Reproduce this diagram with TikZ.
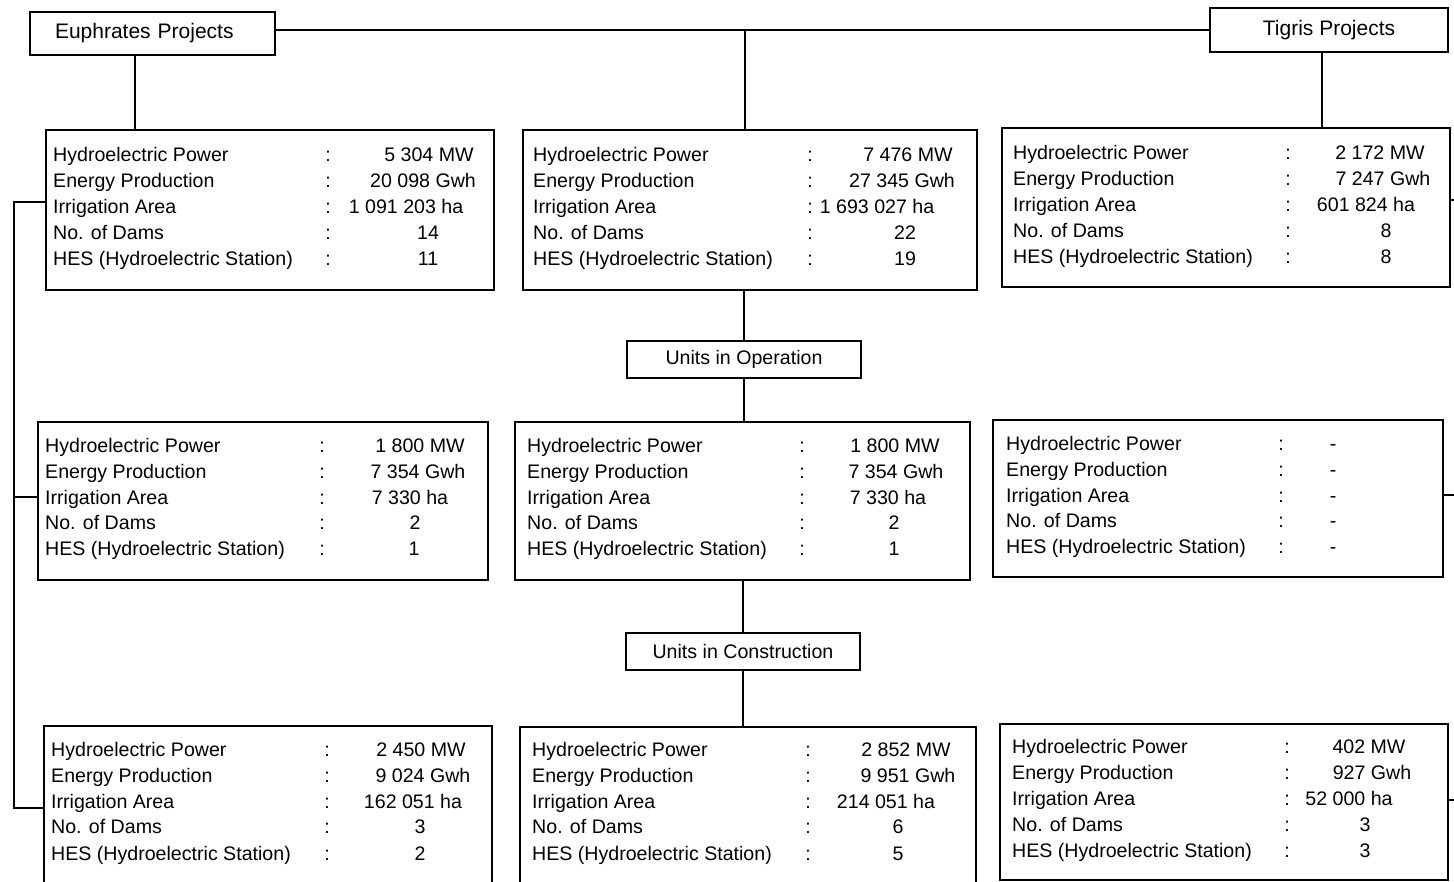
\documentclass[tikz,border=0pt]{standalone}
\usepackage{fontspec}
\setmainfont{Liberation Sans}
\begin{document}
\begin{tikzpicture}[x=1pt,y=-1pt,
  box/.style={draw,line width=2.2pt,rectangle,inner sep=0pt},
  title/.style={box,font=\fontsize{21}{24}\selectfont},
  mid/.style={box,font=\fontsize{19.6}{23}\selectfont},
  lbl/.style={anchor=base west,inner sep=0pt,font=\fontsize{19.6}{23}\selectfont},
  col/.style={anchor=base,inner sep=0pt,font=\fontsize{19.6}{23}\selectfont},
  val/.style={anchor=base,inner sep=0pt,font=\fontsize{19.6}{23}\selectfont},
  conn/.style={line width=2.4pt}]
\useasboundingbox (0,0) rectangle (1454,881);
\clip (0,0) rectangle (1454,881);
\newcommand{\drow}[8]{%
  \node[lbl] (#1l#2) at (#3,#5) {#7};
  \node[col] (#1c#2) at (#4,#5) {:};
  \node[val] (#1v#2) at (#6,#5) {#8};}

% headers
\node[title,minimum width=245pt,minimum height=43pt,text width=225pt,align=left] (eu) at (152.5,33.5) {\hspace*{15pt}Euphrates Projects};
\node[title,minimum width=238pt,minimum height=44pt] (ti) at (1329,30) {Tigris Projects};

% data boxes
\node[box,minimum width=448pt,minimum height=160pt] (tl) at (270,210) {};
\node[box,minimum width=454pt,minimum height=160pt] (tm) at (750,210) {};
\node[box,minimum width=448pt,minimum height=159pt] (tr) at (1226,207.5) {};
\node[mid,minimum width=234pt,minimum height=37pt] (uo) at (744,359.5) {Units in Operation};
\node[box,minimum width=450pt,minimum height=158pt] (ml) at (263,501) {};
\node[box,minimum width=455pt,minimum height=158pt] (mm) at (742.5,501) {};
\node[box,minimum width=450pt,minimum height=157pt] (mr) at (1218,498.5) {};
\node[mid,minimum width=234pt,minimum height=37pt] (uc) at (743,651.5) {Units in Construction};
\node[box,minimum width=448pt,minimum height=174pt] (bl) at (268,813) {};
\node[box,minimum width=456pt,minimum height=173pt] (bm) at (748,813.5) {};
\node[box,minimum width=448pt,minimum height=156pt] (br) at (1224,802) {};

% top-left
\drow{tl}{1}{53}{328}{161}{429}{Hydroelectric Power}{5 304 MW}
\drow{tl}{2}{53}{328}{187}{423}{Energy Production}{20 098 Gwh}
\drow{tl}{3}{53}{328}{213}{406}{Irrigation Area}{1 091 203 ha}
\drow{tl}{4}{53}{328}{239}{428}{No. of Dams}{14}
\drow{tl}{5}{53}{328}{265}{428}{HES (Hydroelectric Station)}{11}
% top-middle
\drow{tm}{1}{533}{810}{161}{908}{Hydroelectric Power}{7 476 MW}
\drow{tm}{2}{533}{810}{187}{902}{Energy Production}{27 345 Gwh}
\drow{tm}{3}{533}{810}{213}{877}{Irrigation Area}{1 693 027 ha}
\drow{tm}{4}{533}{810}{239}{905}{No. of Dams}{22}
\drow{tm}{5}{533}{810}{265}{905}{HES (Hydroelectric Station)}{19}
% top-right
\drow{tr}{1}{1013}{1288}{159}{1380}{Hydroelectric Power}{2 172 MW}
\drow{tr}{2}{1013}{1288}{185}{1383}{Energy Production}{7 247 Gwh}
\drow{tr}{3}{1013}{1288}{211}{1366}{Irrigation Area}{601 824 ha}
\drow{tr}{4}{1013}{1288}{237}{1386}{No. of Dams}{8}
\drow{tr}{5}{1013}{1288}{263}{1386}{HES (Hydroelectric Station)}{8}
% middle-left
\drow{ml}{1}{45}{322}{452}{420}{Hydroelectric Power}{1 800 MW}
\drow{ml}{2}{45}{322}{478}{418}{Energy Production}{7 354 Gwh}
\drow{ml}{3}{45}{322}{504}{410}{Irrigation Area}{7 330 ha}
\drow{ml}{4}{45}{322}{529}{415}{No. of Dams}{2}
\drow{ml}{5}{45}{322}{555}{414}{HES (Hydroelectric Station)}{1}
% middle-middle
\drow{mm}{1}{527}{802}{452}{895}{Hydroelectric Power}{1 800 MW}
\drow{mm}{2}{527}{802}{478}{896}{Energy Production}{7 354 Gwh}
\drow{mm}{3}{527}{802}{504}{888}{Irrigation Area}{7 330 ha}
\drow{mm}{4}{527}{802}{529}{894}{No. of Dams}{2}
\drow{mm}{5}{527}{802}{555}{894}{HES (Hydroelectric Station)}{1}
% middle-right
\drow{mr}{1}{1006}{1281}{450}{1333}{Hydroelectric Power}{-}
\drow{mr}{2}{1006}{1281}{476}{1333}{Energy Production}{-}
\drow{mr}{3}{1006}{1281}{502}{1333}{Irrigation Area}{-}
\drow{mr}{4}{1006}{1281}{527}{1333}{No. of Dams}{-}
\drow{mr}{5}{1006}{1281}{553}{1333}{HES (Hydroelectric Station)}{-}
% bottom-left
\drow{bl}{1}{51}{327}{756}{421}{Hydroelectric Power}{2 450 MW}
\drow{bl}{2}{51}{327}{782}{423}{Energy Production}{9 024 Gwh}
\drow{bl}{3}{51}{327}{808}{413}{Irrigation Area}{162 051 ha}
\drow{bl}{4}{51}{327}{833}{420}{No. of Dams}{3}
\drow{bl}{5}{51}{327}{860}{420}{HES (Hydroelectric Station)}{2}
% bottom-middle
\drow{bm}{1}{532}{808}{756}{906}{Hydroelectric Power}{2 852 MW}
\drow{bm}{2}{532}{808}{782}{908}{Energy Production}{9 951 Gwh}
\drow{bm}{3}{532}{808}{808}{886}{Irrigation Area}{214 051 ha}
\drow{bm}{4}{532}{808}{833}{898}{No. of Dams}{6}
\drow{bm}{5}{532}{808}{860}{898}{HES (Hydroelectric Station)}{5}
% bottom-right
\drow{br}{1}{1012}{1287}{753}{1369}{Hydroelectric Power}{402 MW}
\drow{br}{2}{1012}{1287}{779}{1372}{Energy Production}{927 Gwh}
\drow{br}{3}{1012}{1287}{805}{1349}{Irrigation Area}{52 000 ha}
\drow{br}{4}{1012}{1287}{831}{1365}{No. of Dams}{3}
\drow{br}{5}{1012}{1287}{857}{1365}{HES (Hydroelectric Station)}{3}

% connectors
\coordinate (j) at (745,30);
\draw[conn] (ti.west) -- (ti.west -| eu.east);
\draw[conn] (j) -- (j |- tm.north);
\draw[conn] ([xshift=-17.5pt]eu.south) -- ([xshift=-17.5pt]eu.south |- tl.north);
\draw[conn] ([xshift=-7pt]ti.south) -- ([xshift=-7pt]ti.south |- tr.north);
\draw[conn] (uo.north) -- (uo.north |- tm.south);
\draw[conn] (uo.south) -- (uo.south |- mm.north);
\draw[conn] (uc.north) -- (uc.north |- mm.south);
\draw[conn] (uc.south) -- (uc.south |- bm.north);
% left bracket
\coordinate (lb1) at (14,202);
\coordinate (lb2) at (14,497);
\coordinate (lb3) at (14,808);
\draw[conn] (lb1 -| tl.west) -- (lb1) -- (lb3) -- (lb3 -| bl.west);
\draw[conn] (lb2) -- (lb2 -| ml.west);
% right stubs
\coordinate (rb1) at (1454,200);
\coordinate (rb2) at (1454,495);
\coordinate (rb3) at (1454,800);
\draw[conn] (rb1 -| tr.east) -- (rb1);
\draw[conn] (rb2 -| mr.east) -- (rb2);
\draw[conn] (rb3 -| br.east) -- (rb3);
\end{tikzpicture}
\end{document}
